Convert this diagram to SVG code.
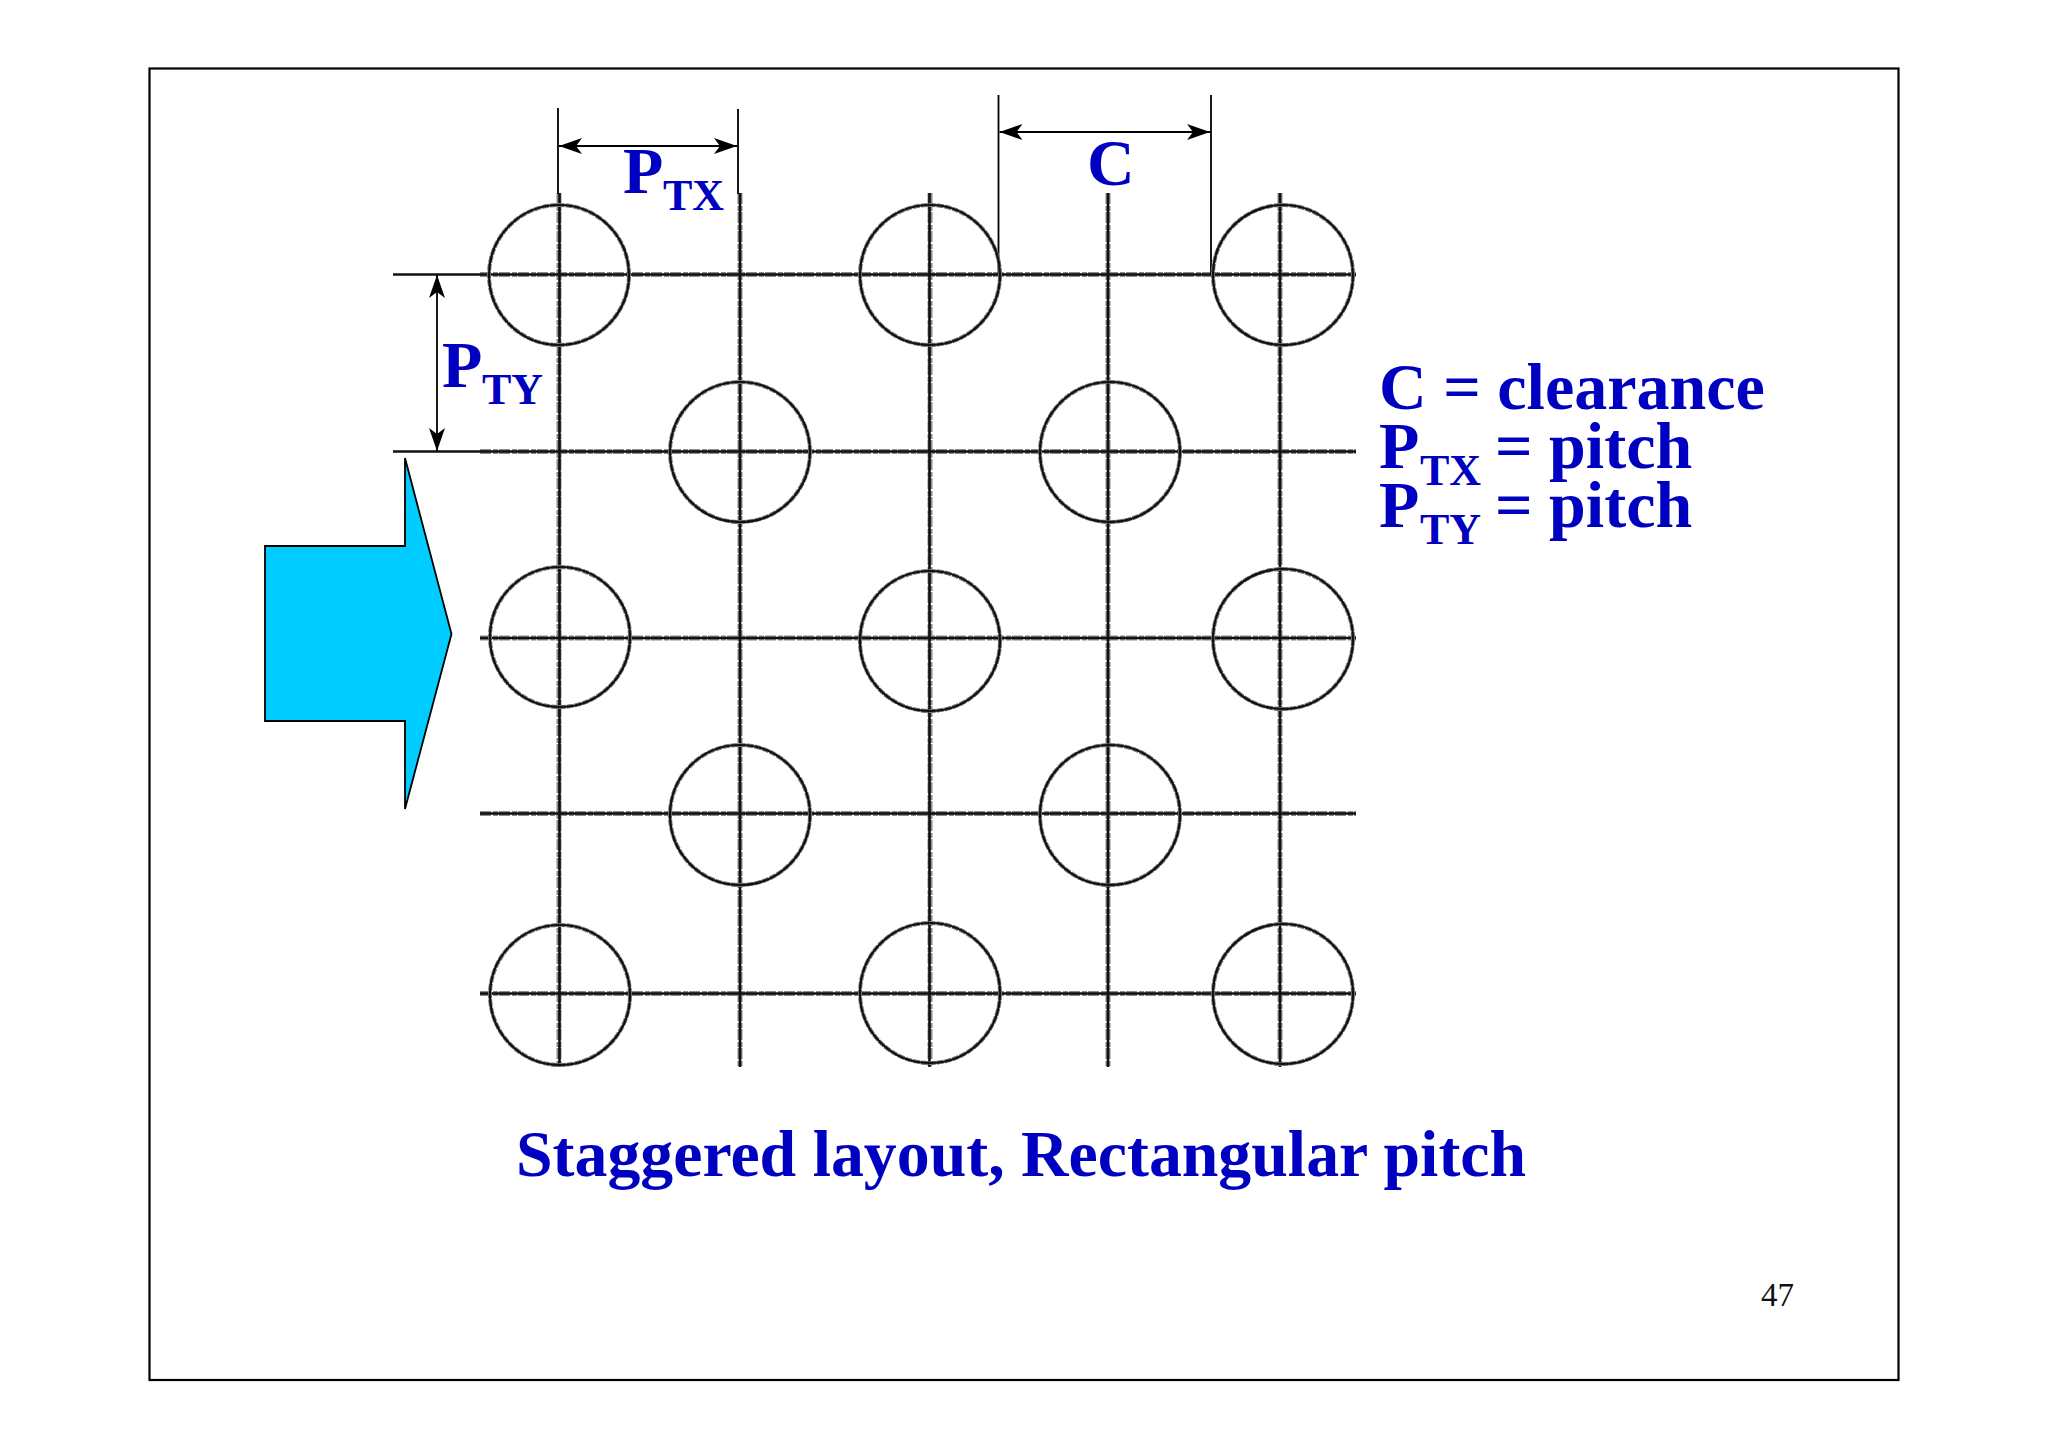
<svg xmlns="http://www.w3.org/2000/svg" width="2048" height="1448" viewBox="0 0 2048 1448">
<style>
.t{font-family:"Liberation Serif","Times New Roman",serif;font-weight:700;fill:#0000c0}
.m{font-size:66px}.s{font-size:44px}.b{font-size:65.800px}
.g{stroke:#8a8a8a;stroke-width:5;fill:none;stroke-dasharray:11 2 5 1}
.k{stroke:#111;stroke-width:2.600;fill:none}
.c{stroke:#777;stroke-width:4;fill:none;stroke-dasharray:7 1}
.c2{stroke:#111;stroke-width:2.200;fill:none}
.d{stroke:#000;stroke-width:1.800;fill:none}
</style>
<defs>
<marker id="ah" markerUnits="userSpaceOnUse" markerWidth="26" markerHeight="18" refX="23" refY="8" orient="auto-start-reverse" overflow="visible"><path d="M23 8 L0 0 L6 8 L0 16 Z" fill="#000"/></marker>
<g id="tube"><circle r="70" class="c"/><circle r="70" class="c2"/></g>
</defs>
<rect width="2048" height="1448" fill="#fff"/>
<rect id="frame" x="149.500" y="68.500" width="1749" height="1311.500" fill="none" stroke="#000" stroke-width="2.200"/>
<g id="connectors">
<g id="grid-halo" class="g">
<path d="M480 274.500H1356M480 451.500H1356M480 638H1356M480 813.500H1356M480 993.500H1356"/>
<path d="M559 193V1067M740 193V1067M930 193V1067M1108 193V1067M1280 193V1067"/>
</g>
<g id="grid" class="k">
<path d="M393 274.500H1356M393 451.500H1356M480 638H1356M480 813.500H1356M480 993.500H1356"/>
<path d="M559.500 193V1067M740 193V1067M929.500 193V1067M1108 193V1067M1280 193V1067"/>
</g>
<path class="d" d="M558 108V194M738 109V194M998.500 95V274M1211 95V274"/>
<line class="d" x1="559" y1="146" x2="737" y2="146" marker-start="url(#ah)" marker-end="url(#ah)"/>
<line class="d" x1="999.500" y1="132" x2="1210" y2="132" marker-start="url(#ah)" marker-end="url(#ah)"/>
<line class="d" x1="437" y1="275" x2="437" y2="451" marker-start="url(#ah)" marker-end="url(#ah)"/>
</g>
<g id="tubes">
<use id="tube-1" href="#tube" x="559" y="275"/>
<use id="tube-2" href="#tube" x="930" y="275"/>
<use id="tube-3" href="#tube" x="1283" y="275"/>
<use id="tube-4" href="#tube" x="740" y="452"/>
<use id="tube-5" href="#tube" x="1110" y="452"/>
<use id="tube-6" href="#tube" x="560" y="637"/>
<use id="tube-7" href="#tube" x="930" y="641"/>
<use id="tube-8" href="#tube" x="1283" y="639"/>
<use id="tube-9" href="#tube" x="740" y="815"/>
<use id="tube-10" href="#tube" x="1110" y="815"/>
<use id="tube-11" href="#tube" x="560" y="995"/>
<use id="tube-12" href="#tube" x="930" y="993"/>
<use id="tube-13" href="#tube" x="1283" y="994"/>
</g>
<g id="flow-arrow"><path d="M265 546H405V458L451.500 634L405 809V721H265Z" fill="#00ccff" stroke="#000" stroke-width="1.800" stroke-linejoin="miter"/></g>
<g id="labels">
<text class="t m" x="623" y="193">P</text><text class="t s" x="663" y="210">TX</text>
<text class="t m" x="442" y="387">P</text><text class="t s" x="482" y="404">TY</text>
<text class="t m" x="1087" y="185">C</text>
<text class="t m" x="1379" y="409">C = clearance</text>
<text class="t m" x="1379" y="468">P</text><text class="t s" x="1420" y="485">TX</text><text class="t m" x="1495" y="468">= pitch</text>
<text class="t m" x="1379" y="527">P</text><text class="t s" x="1420" y="544">TY</text><text class="t m" x="1495" y="527">= pitch</text>
<text class="t b" x="516" y="1176">Staggered layout, Rectangular pitch</text>
<text x="1761" y="1306" font-family="Liberation Serif,serif" font-size="33" fill="#111">47</text>
</g>
</svg>
